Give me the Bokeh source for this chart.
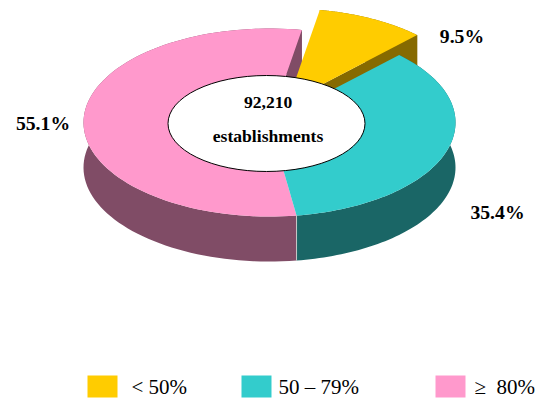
import numpy as np
from bokeh.plotting import figure
from bokeh.models import Range1d
from bokeh.core.properties import value
from bokeh.embed import file_html
from bokeh.resources import INLINE

categories = ["< 50%", "50 \u2013 79%", "\u2265\u00a0\u00a080%"]
shares = [9.5, 35.4, 55.1]
share_labels = ["9.5%", "35.4%", "55.1%"]
center_labels = ["92,210", "establishments"]
top_colors = ["#FFCC00", "#33CCCC", "#FF99CC"]
side_colors = ["#866A00", "#1A6666", "#804C66"]

CX, CY, RX, RY, DEPTH = 269, 122, 186, 94, 45
START = 10.0
EXPLODE = (18, -20)
W, H = 542, 400

p = figure(width=W, height=H, x_range=Range1d(0, W), y_range=Range1d(H, 0),
           output_backend="svg", toolbar_location=None, min_border=0)
p.axis.visible = False
p.grid.visible = False
p.outline_line_color = None


def arc(a0, a1, ox=0, oy=0):
    t = np.radians(np.linspace(a0, a1, 90))
    return CX + ox + RX * np.sin(t), CY + oy - RY * np.cos(t)


angles = np.cumsum([0] + [s * 3.6 for s in shares]) + START
spans = list(zip(angles[:-1], angles[1:]))


def offset(i):
    return EXPLODE if i == 0 else (0, 0)


def wall_and_face(i):
    a0, a1 = spans[i]
    ox, oy = offset(i)
    x, y = arc(a0, a1, ox, oy)
    # outer wall
    p.patch(np.r_[x, x[::-1]], np.r_[y, y[::-1] + DEPTH],
            fill_color=side_colors[i], line_color=None)
    # the cut face at the end of the slice, the only one that can be seen
    if i != 1:
        ax, ay = CX + ox, CY + oy
        ex, ey = x[-1], y[-1]
        p.patch([ax, ex, ex, ax], [ay, ey, ey + DEPTH, ay + DEPTH],
                fill_color=side_colors[i], line_color=None)


def top(i):
    a0, a1 = spans[i]
    ox, oy = offset(i)
    x, y = arc(a0, a1, ox, oy)
    p.patch(np.r_[CX + ox, x], np.r_[CY + oy, y],
            fill_color=top_colors[i], line_color=None)


for i in (0, 2, 1):
    wall_and_face(i)
for i in (2, 1, 0):
    top(i)

# seam between the two front walls
sx, sy = arc(spans[1][1], spans[1][1] + 0.01)
p.line([sx[0], sx[0]], [sy[0], sy[0] + DEPTH], line_color="#C8C8C8", line_width=1)

# hole
p.ellipse(x=[266], y=[123], width=[197], height=[96], fill_color="white",
          line_color="black", line_width=1)

serif = value("Liberation Serif")
p.text(x=[267.7, 267.5], y=[102, 135], text=center_labels, text_font=serif,
       text_font_size="17.6px", text_font_style="bold", text_align="center",
       text_baseline="middle", text_color="black")
p.text(x=[461.5, 497, 42.5], y=[35, 211, 122], text=share_labels, text_font=serif,
       text_font_size="19.7px", text_font_style="bold", text_align="center",
       text_baseline="middle", text_color="black")

# legend
swatch_x = [87, 241, 435]
text_x = [131, 278, 474]
p.quad(left=swatch_x, right=[v + 30 for v in swatch_x], top=[375] * 3, bottom=[397] * 3,
       fill_color=top_colors, line_color=None)
p.text(x=text_x, y=[386] * 3, text=categories, text_font=serif, text_font_size="21px",
       text_align="left", text_baseline="middle", text_color="black")

open("out.html", "w").write(file_html(p, INLINE))
